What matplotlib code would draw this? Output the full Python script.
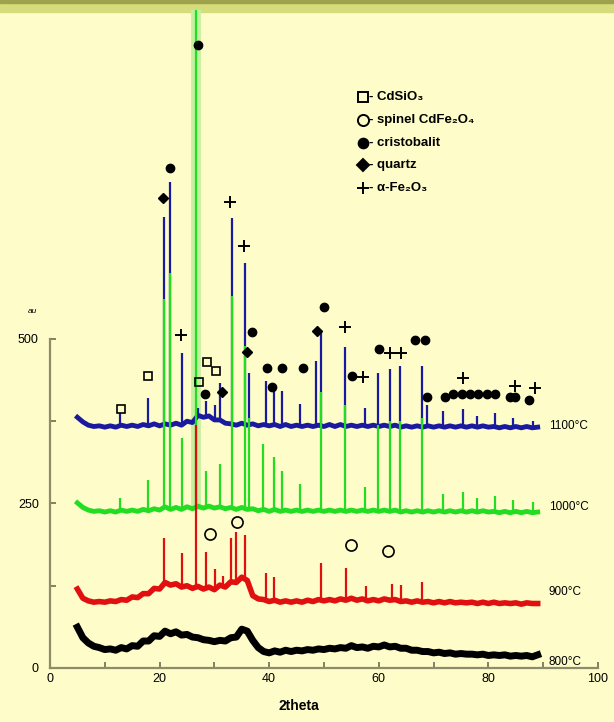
import numpy as np
import matplotlib.pyplot as plt
from matplotlib.patches import Rectangle

plt.rcParams['font.family'] = ['Liberation Sans Narrow', 'Liberation Sans', 'DejaVu Sans']

# 2theta grid of the traced baselines (5..89, step 1)
theta_start = 5

black_base = [62, 46, 38, 33, 31, 28, 29, 27, 31, 29,
              34, 33, 41, 41, 49, 48, 56, 52, 55, 50,
              51, 47, 46, 43, 42, 40, 42, 41, 46, 47,
              59, 56, 42, 31, 25, 23, 26, 24, 27, 25,
              27, 26, 28, 27, 29, 28, 30, 29, 31, 30,
              34, 31, 32, 30, 33, 32, 35, 32, 33, 30,
              30, 27, 27, 25, 25, 23, 24, 22, 23, 21,
              22, 21, 21, 20, 21, 19, 20, 19, 20, 18,
              19, 18, 19, 17, 20]

red_base = [120, 106, 102, 100, 101, 100, 102, 101, 104, 103,
            108, 107, 113, 113, 121, 120, 130, 126, 128, 123,
            125, 121, 124, 120, 123, 119, 126, 123, 131, 130,
            138, 133, 110, 105, 104, 101, 103, 100, 102, 100,
            102, 100, 103, 101, 104, 102, 104, 102, 105, 103,
            106, 103, 105, 102, 104, 102, 105, 103, 104, 101,
            102, 100, 102, 100, 101, 99, 101, 99, 101, 99,
            100, 99, 100, 98, 100, 98, 100, 98, 99, 98,
            99, 97, 99, 98, 98]

green_base = [251, 244, 240, 238, 239, 237, 239, 237, 240, 238,
              240, 238, 241, 239, 242, 240, 245, 241, 244, 241,
              245, 242, 246, 243, 246, 243, 245, 242, 244, 241,
              244, 241, 242, 239, 241, 238, 241, 238, 240, 238,
              240, 238, 240, 238, 240, 238, 240, 238, 240, 238,
              240, 238, 240, 238, 240, 238, 240, 238, 240, 237,
              239, 237, 239, 237, 239, 237, 239, 237, 239, 237,
              239, 237, 239, 237, 239, 237, 238, 236, 238, 236,
              238, 236, 238, 236, 237]

blue_base = [381, 374, 369, 367, 368, 366, 368, 366, 369, 367,
             369, 367, 370, 368, 371, 368, 371, 369, 372, 369,
             375, 373, 384, 381, 383, 377, 377, 372, 371, 369,
             372, 369, 371, 368, 370, 368, 370, 367, 370, 367,
             369, 367, 369, 367, 369, 367, 370, 367, 370, 367,
             369, 367, 369, 367, 369, 367, 369, 367, 369, 366,
             368, 366, 368, 366, 368, 366, 368, 366, 368, 366,
             368, 366, 368, 366, 368, 366, 367, 365, 367, 365,
             367, 365, 367, 365, 366]

# sharp reflections: position (2theta) and top intensity
red_peak_pos = [20.8, 24.1, 26.6, 28.5, 30.1, 31.5, 33.1, 34.0, 35.6, 39.5, 40.8, 49.5, 54.1, 57.6, 62.4, 64.0, 67.9]
red_peak_top = [197, 174, 370, 176, 150, 140, 198, 206, 202, 144, 138, 159, 152, 125, 128, 126, 130]

green_peak_pos = [12.8, 17.9, 20.8, 21.9, 24.1, 26.6, 28.5, 31.0, 33.2, 35.6, 36.3, 38.9, 40.8, 42.3, 45.7,
                  49.5, 53.9, 57.5, 59.9, 62.0, 63.9, 67.9, 71.7, 75.4, 77.9, 81.2, 84.5, 88.1]
green_peak_top = [258, 285, 560, 600, 350, 1000, 300, 310, 565, 490, 380, 340, 320, 300, 280,
                  420, 400, 275, 370, 375, 375, 380, 265, 268, 258, 262, 255, 252]

blue_peak_pos = [12.8, 17.9, 20.8, 21.9, 24.1, 27.0, 28.5, 30.2, 31.0, 33.2, 35.6, 36.3, 39.4, 40.8, 42.3,
                 45.7, 48.6, 49.5, 53.9, 57.5, 59.9, 62.0, 63.9, 67.9, 68.8, 71.7, 75.4, 77.9, 81.2, 84.5, 88.1]
blue_peak_top = [388, 410, 686, 738, 478, 395, 405, 400, 433, 684, 616, 448, 436, 427, 421,
                 401, 467, 514, 488, 395, 448, 454, 459, 459, 400, 391, 394, 383, 388, 380, 376]

# phase markers
sq_x = [12.9, 17.9, 27.2, 28.6, 30.3]
sq_y = [394, 444, 435, 465, 451]
spinel_x = [29.2, 34.1, 54.9, 61.7]
spinel_y = [204, 222, 187, 178]
crist_x = [27.0, 21.9, 36.9, 39.6, 42.3, 46.2, 50.0, 55.1, 60.0, 66.6, 68.4, 28.3, 40.5,
           73.5, 75.2, 76.6, 78.1, 79.7, 81.2, 84.0, 84.9, 87.4, 68.8, 72.1]
crist_y = [947, 760, 511, 456, 456, 456, 549, 444, 485, 498, 498, 416, 427,
           416, 416, 416, 416, 416, 416, 412, 412, 407, 412, 412]
quartz_x = [20.6, 31.4, 48.7, 35.9]
quartz_y = [714, 419, 512, 480]
fe_x = [23.9, 32.8, 35.4, 53.8, 57.1, 62.0, 64.0, 75.4, 84.9, 88.5]
fe_y = [506, 708, 641, 518, 442, 479, 479, 441, 429, 426]

legend_labels = ['- CdSiO₃', '- spinel CdFe₂O₄', '- cristobalit', '- quartz', '- α-Fe₂O₃']
temp_labels = ['1100°C', '1000°C', '900°C', '800°C']
temp_y = [368, 245, 115, 9]

bg = '#fefcc8'
fig = plt.figure(figsize=(6.14, 7.22), dpi=100, facecolor=bg)
ax = fig.add_axes([0.0814, 0.0748, 0.8925, 0.9114])
ax.patch.set_visible(False)

theta = np.arange(theta_start, theta_start + len(black_base))

def draw(base, pos, top, color, z, lw):
    ax.plot(theta, base, color=color, lw=lw, zorder=z)
    if pos:
        foot = np.interp(pos, theta, base)
        ax.vlines(pos, foot, top, color=color, lw=1.6, zorder=z)

# halo around the big quartz line
ax.vlines([26.6], 240, 1000, color='#c4f0a0', lw=7, zorder=1)

draw(blue_base, blue_peak_pos, blue_peak_top, '#1a1aa0', 2, 3.5)
draw(green_base, green_peak_pos, green_peak_top, '#22dd22', 3, 3.5)
draw(red_base, red_peak_pos, red_peak_top, '#e01010', 4, 4)
draw(black_base, [], [], 'black', 5, 5)

mk = dict(color='black', linestyle='none', zorder=6)
ax.plot(sq_x, sq_y, marker='s', ms=6, mfc='none', mew=1.2, **mk)
ax.plot(spinel_x, spinel_y, marker='o', ms=8, mfc='none', mew=1.2, **mk)
ax.plot(crist_x, crist_y, marker='o', ms=6, **mk)
ax.plot(quartz_x, quartz_y, marker='D', ms=5.5, **mk)
ax.plot(fe_x, fe_y, marker='+', ms=8, mew=1.4, **mk)

# legend drawn as text lines
leg_y = [868, 833, 798, 764, 729]
leg_m = [dict(marker='s', mfc='none', ms=7), dict(marker='o', mfc='none', ms=8), dict(marker='o', ms=7),
         dict(marker='D', ms=6), dict(marker='+', ms=9)]
for yy, lab, m in zip(leg_y, legend_labels, leg_m):
    ax.plot([57.2], [yy], color='black', mew=1.4, linestyle='none', zorder=6, **m)
    ax.text(58.3, yy, lab, fontsize=9.5, va='center', ha='left', fontweight='bold')

for lab, yy in zip(temp_labels, temp_y):
    ax.text(91.0, yy, lab, fontsize=8.5, va='center', ha='left')

ax.text(-3.2, 540, 'au', fontsize=6, style='italic', ha='center')

ax.set_xlim(0, 100)
ax.set_ylim(0, 1000)
for s in ['top', 'right']:
    ax.spines[s].set_visible(False)
ax.spines['left'].set_bounds(0, 500)
ax.spines['bottom'].set_bounds(0, 100)
for s in ['left', 'bottom']:
    ax.spines[s].set_color('#8c8c6c')
    ax.spines[s].set_linewidth(1.6)
ax.set_xticks(np.arange(0, 101, 20))
ax.set_xticks(np.arange(10, 100, 20), minor=True)
ax.set_yticks([0, 250, 500])
ax.set_yticks([125, 375], minor=True)
ax.tick_params(which='both', direction='in', color='#6c6c50', length=4, width=1.2, labelsize=9)
ax.tick_params(axis='y', pad=8)
ax.set_xlabel('2theta', fontsize=10, fontweight='bold', labelpad=2)
ax.xaxis.set_label_coords(0.455, -0.047)

fig.add_artist(Rectangle((0, 0.984), 1, 0.016, transform=fig.transFigure, color='#d6dc7c', zorder=0))
fig.add_artist(Rectangle((0, 0.996), 1, 0.004, transform=fig.transFigure, color='#9ea24c', zorder=0))

fig.savefig('out.png', dpi=100, facecolor=bg)
